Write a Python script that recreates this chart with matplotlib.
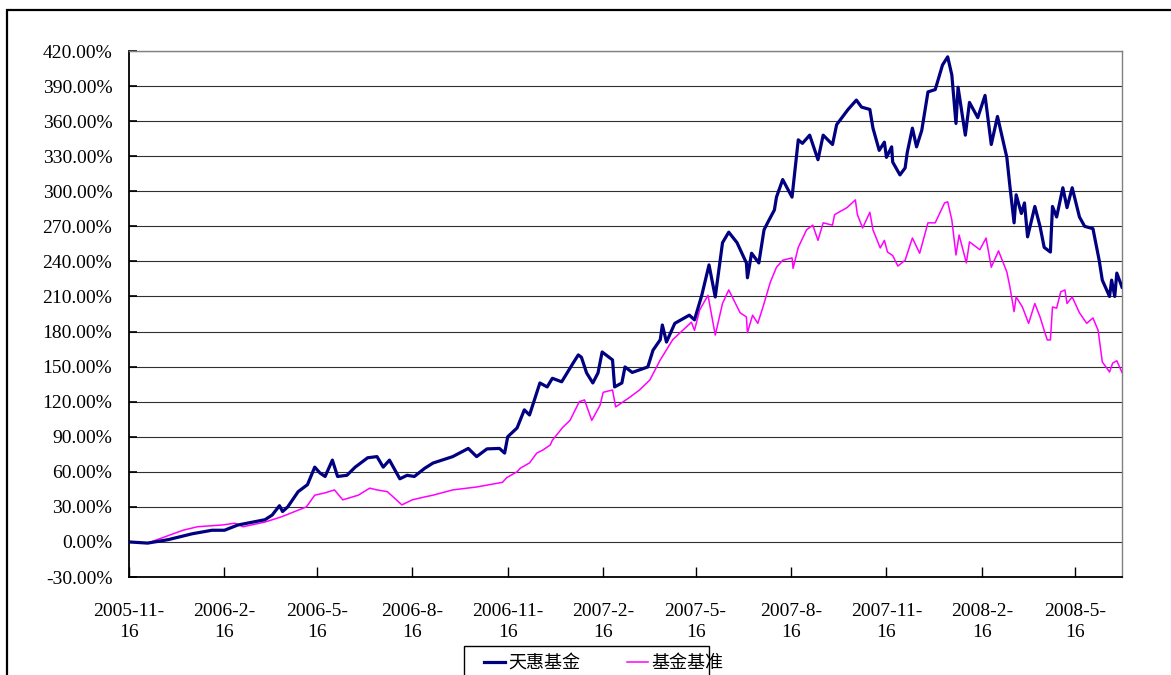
"""Cumulative return: 天惠基金 vs 基金基准, 2005-11-16 to 2008-06."""
import matplotlib
matplotlib.use("Agg")
import matplotlib.pyplot as plt
from matplotlib.patches import Rectangle
from matplotlib.lines import Line2D
import numpy as np

START = np.datetime64("2005-11-16")

# fund: (days since start, cumulative return %)
FUND_DAYS = [0, 18, 38, 61, 80, 92, 105, 131, 138, 145, 148, 153, 163, 172, 179, 184,
             189, 196, 201, 210, 218, 230, 239, 245, 251, 261, 268, 275, 285, 293,
             312, 327, 335, 345, 357, 362, 365, 374, 381, 386, 396, 403, 408, 417,
             428, 433, 436, 441, 447, 452, 456, 466, 468, 475, 478, 485, 500, 505,
             512, 514, 518, 526, 540, 545, 552, 559, 565, 572, 578, 586, 595, 596,
             600, 607, 612, 616, 622, 624, 630, 639, 645, 649, 656, 664, 669, 678,
             682, 693, 701, 706, 714, 717, 723, 728, 730, 735, 736, 743, 748, 750,
             755, 759, 764, 770, 777, 784, 789, 793, 797, 799, 806, 810, 818, 825,
             831, 837, 846, 849, 853, 855, 860, 863, 866, 873, 878, 882, 888, 890,
             894, 900, 904, 909, 916, 921, 929, 935, 938, 945, 947, 950, 952, 957]
FUND_RET = [0, -1, 2, 7, 10, 10, 14.5, 19, 23, 31, 26, 30, 43, 49, 64, 59,
            56, 70, 56, 57, 64, 72, 73, 64, 70, 54, 57, 56, 63, 67.5,
            73, 80, 73, 79.6, 80, 76, 90, 97.5, 113, 108.6, 136, 132.6, 140, 137,
            153, 160, 158, 144.6, 136, 144.6, 162.5, 155.7, 132.6, 136, 149.7, 145, 149.7, 164,
            173, 185.6, 171, 187, 194, 190, 211, 237, 209.6, 256, 265, 256, 238.7, 226,
            247, 238.7, 267, 274, 284, 295, 310, 295, 344, 341, 348, 327, 348, 340,
            357, 370, 378, 372, 370, 354, 335, 342, 329, 338, 325, 314, 320, 333,
            354, 338, 352, 385, 387, 408, 415, 399.5, 358, 389, 348, 376, 363, 382,
            340, 364, 329, 304, 273, 297, 281, 290, 261, 287, 270, 252, 248, 287,
            278, 303, 286, 303, 278, 270, 268, 241, 224, 210, 224, 210, 230, 218]

# benchmark
BENCH_DAYS = [0, 18, 35, 52, 66, 90, 102, 110, 131, 147, 171, 179, 189, 198, 206,
              221, 232, 239, 249, 263, 273, 285, 293, 312, 335, 360, 364, 374, 377,
              386, 393, 399, 406, 408, 418, 425, 434, 439, 446, 454, 457, 466, 469,
              483, 492, 502, 512, 524, 542, 545, 550, 558, 565, 572, 578, 589, 595,
              596, 601, 606, 611, 618, 624, 630, 639, 640, 645, 653, 659, 664, 669,
              678, 680, 692, 700, 702, 707, 714, 717, 724, 728, 731, 736, 741, 748,
              755, 762, 770, 777, 786, 789, 793, 797, 800, 807, 810, 820, 826, 831,
              838, 846, 849, 853, 855, 861, 867, 873, 878, 882, 885, 888, 890, 894,
              898, 902, 904, 909, 916, 923, 929, 934, 938, 945, 948, 952, 957]
BENCH_RET = [0, -1, 4.5, 10, 13, 14.5, 16, 13, 17, 21.5, 30, 40, 42, 44.5, 36,
             40, 46, 44.5, 43, 31.7, 36, 38.5, 40, 44.5, 47, 51, 55, 60, 63,
             67.6, 76, 78.7, 83, 87, 98, 104, 120, 121.5, 104, 117, 128, 130, 115.5,
             124, 130, 138.6, 155.7, 173, 188, 181, 198.5, 211, 177, 204, 215.6, 196, 192.5,
             179, 194, 187, 201, 222, 235, 241, 243, 234, 252, 267, 271, 258, 273,
             271, 280, 286, 292.6, 280, 268.6, 282, 267, 251.5, 258, 248, 245, 236, 241,
             260, 247, 273, 273, 290, 291, 275.5, 245.5, 262.6, 238.7, 256.7, 250, 260, 235,
             249, 231, 218, 197, 209.6, 201, 187, 204, 192.5, 181, 172.8, 172.8, 201, 200,
             214, 215.6, 204, 209.6, 196, 187, 191.6, 181, 154, 145.4, 153, 155, 145]

TICK_DAYS = [0, 92, 181, 273, 365, 457, 546, 638, 730, 822, 912]
TICK_LABELS = ["2005-11-\n16", "2006-2-\n16", "2006-5-\n16", "2006-8-\n16",
               "2006-11-\n16", "2007-2-\n16", "2007-5-\n16", "2007-8-\n16",
               "2007-11-\n16", "2008-2-\n16", "2008-5-\n16"]
SERIES_NAMES = ["天惠基金", "基金基准"]

NAVY = "#000080"
MAGENTA = "#FF00FF"
NUM_FONT = "Liberation Serif"
CJK_FONT = ["Noto Sans CJK SC", "DejaVu Sans"]


def to_dates(days):
    return (START + np.array(days, dtype="timedelta64[D]")).astype("datetime64[ms]").astype(object)


fig = plt.figure(figsize=(11.71, 6.75), dpi=100)
W, H = 1171, 675
ax = fig.add_axes([129 / W, 1 - 577 / H, (1122 - 129) / W, (577 - 51) / H])

ax.plot(to_dates(BENCH_DAYS), BENCH_RET, color=MAGENTA, lw=1.1, zorder=3)
ax.plot(to_dates(FUND_DAYS), FUND_RET, color=NAVY, lw=2.3, zorder=4)

yt = np.arange(-30, 421, 30)
ax.set_ylim(-30, 420)
ax.set_yticks(yt)
ax.set_yticklabels([f"{v:.2f}%" for v in yt], fontfamily=NUM_FONT, fontsize=14)
ax.grid(True, axis="y", color="#303030", lw=0.8)
ax.set_axisbelow(True)

ax.set_xlim(to_dates([0])[0], to_dates([957])[0])
ax.set_xticks(to_dates(TICK_DAYS))
ax.set_xticklabels(TICK_LABELS, fontfamily=NUM_FONT, fontsize=14, linespacing=1.25)

ax.tick_params(axis="y", direction="in", length=6, width=1.2, pad=12, colors="black")
ax.tick_params(axis="x", direction="in", length=7, width=1.0, pad=19, colors="black")

for side in ("left", "bottom"):
    ax.spines[side].set_color("black")
    ax.spines[side].set_linewidth(1.3)
for side in ("top", "right"):
    ax.spines[side].set_color("#808080")
    ax.spines[side].set_linewidth(1.0)

# outer chart frame (cut off at the right/bottom of the picture)
fig.patches.append(Rectangle((7 / W, -0.1), 1.2, 1 - 10 / H + 0.1, transform=fig.transFigure,
                             fill=False, edgecolor="black", lw=1.6))

# legend box, also cut by the bottom edge
fig.patches.append(Rectangle((464 / W, -0.05), (709 - 464) / W, 1 - 646 / H + 0.05,
                             transform=fig.transFigure, fill=False,
                             edgecolor="black", lw=1.0))
handles = [Line2D([], [], color=NAVY, lw=2.3), Line2D([], [], color=MAGENTA, lw=1.1)]
fig.legend(handles, SERIES_NAMES, loc="center left",
           bbox_to_anchor=(484 / W, 1 - 663 / H), ncol=2, frameon=False,
           prop={"family": CJK_FONT, "size": 13}, handlelength=1.15,
           handletextpad=0.2, columnspacing=2.6, borderpad=0, borderaxespad=0)

fig.savefig("out.png", dpi=100)
